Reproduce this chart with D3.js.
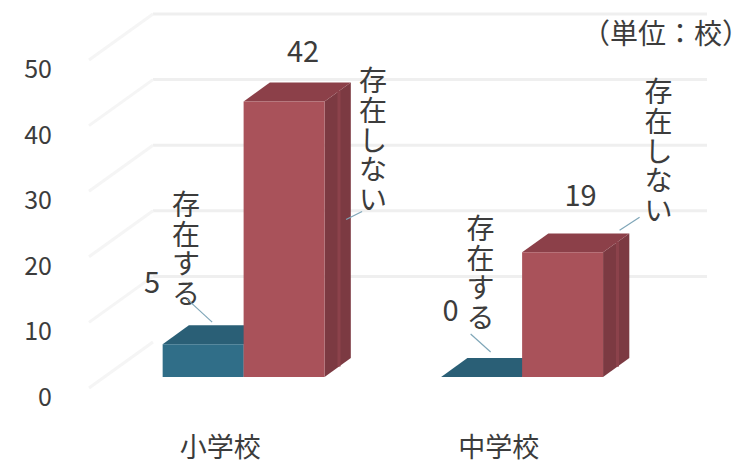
<!DOCTYPE html>
<html>
<head>
<meta charset="utf-8">
<script src="https://cdn.jsdelivr.net/npm/d3@7"></script>
<style>
  html, body { margin: 0; padding: 0; background: #ffffff; }
  svg { display: block; }
  text { font-family: "Noto Sans CJK JP", "Noto Sans", sans-serif; fill: #3c3c3c; }
</style>
</head>
<body>
<svg id="chart" width="751" height="464"></svg>
<script>
// ---- data ----
const categories = ["小学校", "中学校"];
const seriesNames = ["存在する", "存在しない"];
const existsValues = [5, 0];      // 存在する
const notExistsValues = [42, 19]; // 存在しない
const yTicks = [0, 10, 20, 30, 40, 50];
const unitLabel = "（単位：校）";

// ---- layout ----
const W = 751, H = 464;
const backLeft = 153, backRight = 710;   // back wall horizontal extent
const depthVec = [64, 46];               // screen offset from front plane to back wall
const barDepth = [0.24, 0.65];           // bar front / back position (0 = front, 1 = back)

const svg = d3.select("#chart");

// value scale on the back wall plane
const y = d3.scaleLinear().domain([0, 50]).range([342, 14]);
const x0 = d3.scaleBand().domain(categories).range([backLeft, backRight]);
const x1 = d3.scaleBand().domain(seriesNames).range([0, x0.bandwidth()]).paddingOuter(0.72).paddingInner(0);

// project (x on back plane, value, depth) to the screen
function P(xb, v, d) {
  const k = 1 - d;
  return [xb - k * depthVec[0], y(v) + k * depthVec[1]];
}

const colors = {
  "存在する":   { front: "#306e88", top: "#2a5f76", side: "#245469" },
  "存在しない": { front: "#a9525a", top: "#8c4049", side: "#7c3a42" }
};

// ---- walls: back wall gridlines and side wall lines ----
const grid = svg.append("g");
yTicks.filter(t => t > 0).forEach(t => {
  grid.append("line")
    .attr("x1", backLeft).attr("x2", backRight - 3)
    .attr("y1", y(t)).attr("y2", y(t))
    .attr("stroke", "#efefef").attr("stroke-width", 3);
});
yTicks.forEach(t => {
  const a = P(backLeft, t, 0), b = P(backLeft, t, 1);
  grid.append("line")
    .attr("x1", a[0]).attr("y1", a[1]).attr("x2", b[0]).attr("y2", b[1])
    .attr("stroke", "#f5f5f5").attr("stroke-width", 3);
});

// ---- axis labels on the front edge of the side wall ----
const axis = svg.append("g");
yTicks.forEach(t => {
  const p = P(backLeft, t, 0);
  axis.append("text")
    .attr("x", 52).attr("y", p[1] + 7)
    .attr("text-anchor", "end").attr("dominant-baseline", "central")
    .attr("font-size", 25).text(t);
});

// ---- bars ----
const rows = categories.map((c, i) => ({
  cat: c,
  bars: [
    { series: seriesNames[0], value: existsValues[i] },
    { series: seriesNames[1], value: notExistsValues[i] }
  ]
}));

const poly = pts => pts.map(p => p.join(",")).join(" ");
const barsG = svg.append("g");

rows.forEach(r => {
  r.bars.forEach((b, j) => {
    const xl = x0(r.cat) + x1(b.series);
    const xr = xl + x1.bandwidth();
    const [df, db] = barDepth;
    const c = colors[b.series];
    const fbl = P(xl, 0, df), fbr = P(xr, 0, df), ftl = P(xl, b.value, df), ftr = P(xr, b.value, df);
    const bbr = P(xr, 0, db), btl = P(xl, b.value, db), btr = P(xr, b.value, db);
    const g = barsG.append("g");
    g.append("polygon").attr("points", poly([fbr, ftr, btr, bbr])).attr("fill", c.side);
    // a lighter stripe on the side face
    const s1 = [ftr[0] + (btr[0] - ftr[0]) * 0.55, ftr[1] + (btr[1] - ftr[1]) * 0.55];
    const s2 = [fbr[0] + (bbr[0] - fbr[0]) * 0.55, fbr[1] + (bbr[1] - fbr[1]) * 0.55];
    g.append("line").attr("x1", s1[0]).attr("y1", s1[1]).attr("x2", s2[0]).attr("y2", s2[1])
      .attr("stroke", d3.color(c.side).brighter(0.35)).attr("stroke-width", 3);
    g.append("polygon").attr("points", poly([ftl, ftr, btr, btl])).attr("fill", c.top);
    g.append("polygon").attr("points", poly([fbl, fbr, ftr, ftl])).attr("fill", c.front);
    b.frontTop = [(ftl[0] + ftr[0]) / 2, ftl[1]];
  });
});

// ---- category labels ----
categories.forEach(c => {
  const p = P(x0(c) + x0.bandwidth() / 2, 0, 0);
  svg.append("text")
    .attr("x", p[0] - 8).attr("y", p[1] + 57)
    .attr("text-anchor", "middle").attr("dominant-baseline", "central")
    .attr("font-size", 27).text(c);
});

// ---- data labels (value, vertical series name, leader line) ----
// offsets of each label from the top centre of its bar's front face
const valueOffsets = [[[-51, -64], [19, -52]], [[-31, -69], [18, -59]]];
const nameOffsets  = [[[-17, -141], [89, -22]], [[-1, -150], [96, -162]]];
const leaderEnds   = [[[[-16, -45], [9, -22]], [[62, 118], [78, 110]]],
                      [[[-11, -43], [9, -25]], [[57, -22], [77, -35]]]];

const labels = svg.append("g");
rows.forEach((r, i) => {
  r.bars.forEach((b, j) => {
    const [tx, ty] = b.frontTop;
    const vo = valueOffsets[i][j];
    labels.append("text")
      .attr("x", tx + vo[0]).attr("y", ty + vo[1])
      .attr("text-anchor", "middle").attr("dominant-baseline", "central")
      .attr("font-size", 29).text(b.value);
    // series name set vertically, one character per line
    const no = nameOffsets[i][j];
    Array.from(b.series).forEach((ch, k) => {
      labels.append("text")
        .attr("x", tx + no[0]).attr("y", ty + no[1] + k * 29.6)
        .attr("text-anchor", "middle").attr("dominant-baseline", "central")
        .attr("font-size", 28).text(ch);
    });
    const le = leaderEnds[i][j];
    labels.append("line")
      .attr("x1", tx + le[0][0]).attr("y1", ty + le[0][1])
      .attr("x2", tx + le[1][0]).attr("y2", ty + le[1][1])
      .attr("stroke", "#7fa6b8").attr("stroke-width", 1.2);
  });
});

// ---- unit ----
svg.append("text")
  .attr("x", 750).attr("y", 32)
  .attr("text-anchor", "end").attr("dominant-baseline", "central")
  .attr("font-size", 28).text(unitLabel);
</script>
</body>
</html>
